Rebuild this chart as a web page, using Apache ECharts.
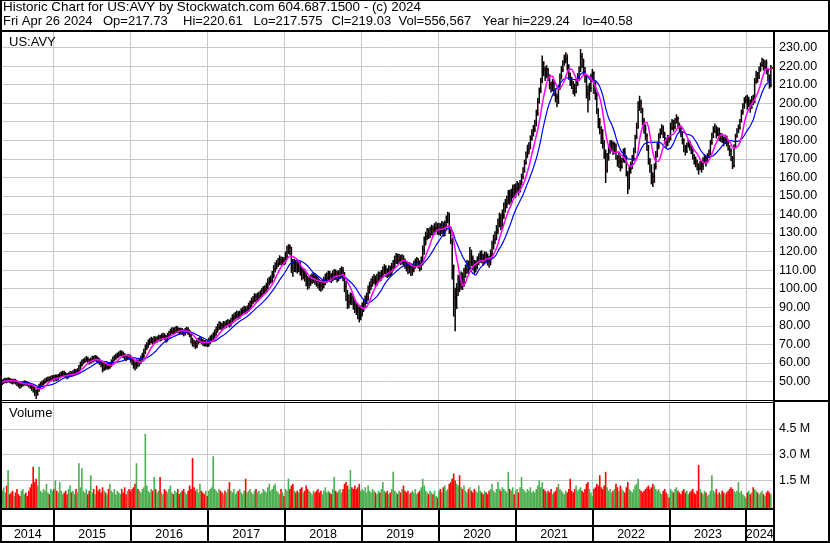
<!DOCTYPE html>
<html><head><meta charset="utf-8">
<script src="https://cdn.jsdelivr.net/npm/echarts@6/dist/echarts.min.js"></script>
<style>html,body{margin:0;padding:0;background:#fff;overflow:hidden}#c{width:830px;height:543px}</style>
</head><body><div id="c"></div>
<script>
// ---- DATA (weekly, first bar = Fri 2 May 2014, one value per week) ----
const firstWeek = '2014-05-02';
const closes = [
49.6,50.1,50.8,50.4,51.0,50.6,50.2,49.8,50.4,49.6,48.9,48.2,47.6,48.3,48.8,49.3,49.0,48.6,48.1,47.4,46.6,45.8,44.2,43.0,45.6,47.2,48.3,49.1,49.8,50.6,50.9,51.4,51.0,51.8,52.0,
51.5,52.3,51.8,52.6,53.4,53.8,54.5,53.9,53.2,52.8,53.6,54.2,53.9,54.6,55.3,55.0,55.8,57.5,59.2,60.4,60.9,61.5,62.2,61.0,60.5,61.3,62.5,61.8,62.9,62.0,61.2,60.4,59.1,57.0,58.5,57.6,58.8,57.9,58.9,60.6,62.0,62.8,63.5,64.0,64.8,65.3,64.9,64.2,63.1,62.5,63.3,63.0,
62.0,60.5,59.0,58.2,60.3,59.6,60.8,62.5,63.9,66.0,68.2,69.5,71.0,71.8,72.5,71.6,72.9,72.3,72.8,73.6,73.0,74.2,74.6,73.8,72.5,74.7,75.6,76.8,77.5,77.0,77.8,78.3,77.6,76.9,77.4,76.8,76.0,77.2,77.8,76.5,75.2,72.0,70.6,70.2,69.2,71.4,71.9,72.6,71.5,70.8,70.3,70.6,70.2,
71.5,72.8,73.5,74.6,76.0,77.8,79.2,80.4,80.0,79.4,80.8,80.3,81.2,81.6,81.0,82.5,84.2,84.9,85.6,86.2,85.4,86.3,87.5,88.1,88.8,88.2,89.0,90.5,91.8,93.2,94.0,95.6,94.8,95.9,96.4,97.2,98.5,99.3,99.8,101.0,103.5,104.2,105.0,107.2,110.5,112.0,113.4,114.2,115.6,114.8,115.1,114.9,
117.5,120.8,122.4,121.0,114.0,111.5,113.2,112.0,111.2,112.5,109.8,107.6,108.5,106.9,104.5,102.8,103.6,104.8,105.5,106.3,105.0,104.2,103.1,102.0,101.5,102.3,103.8,105.5,106.0,107.2,106.5,105.8,107.4,108.0,107.3,106.2,107.5,108.6,109.4,107.0,101.5,96.4,92.8,93.5,95.2,94.0,91.5,90.2,89.0,87.5,85.2,88.6,
89.5,92.0,93.8,95.5,99.2,101.4,103.0,104.5,105.3,103.8,105.6,106.9,106.2,107.8,109.6,110.8,108.9,108.2,110.3,109.1,111.5,113.0,115.2,116.8,115.6,116.4,115.2,116.0,114.3,113.1,112.0,110.6,111.8,109.5,110.9,112.6,113.8,114.5,113.2,112.0,114.6,120.5,125.2,128.0,130.2,129.4,131.0,132.0,130.8,132.9,133.6,131.8,
132.8,131.5,133.9,130.6,134.5,137.2,139.4,132.0,126.5,112.0,95.5,90.0,99.5,104.2,102.0,106.5,103.0,108.5,110.2,112.8,111.0,119.0,116.0,113.5,111.5,112.5,114.8,116.2,117.8,116.5,115.3,117.6,116.8,115.2,114.6,118.5,123.0,126.5,128.0,131.5,135.2,138.0,134.6,139.5,143.8,145.2,147.5,150.2,148.6,151.3,153.0,152.4,
154.0,155.2,152.8,157.5,160.2,163.4,167.8,172.5,175.0,176.5,181.0,184.5,186.0,189.0,194.5,201.0,206.5,212.0,221.5,218.0,215.5,217.8,214.5,210.0,208.5,210.8,206.0,203.5,200.5,208.0,214.5,218.0,221.5,224.0,226.0,219.0,215.0,212.0,210.5,208.0,206.2,210.5,214.0,218.5,225.0,222.5,217.0,214.0,205.0,202.5,208.0,213.5,216.5,
210.0,204.5,196.0,190.0,185.5,181.0,178.5,172.0,164.0,170.5,174.8,176.5,178.0,174.5,176.8,171.0,168.5,170.2,165.5,168.8,173.5,171.0,162.0,154.5,164.5,166.5,170.2,174.0,181.5,187.5,198.5,200.2,196.0,190.5,186.0,182.5,176.0,168.5,165.0,160.5,158.0,166.0,172.5,177.0,182.0,184.5,186.5,183.0,180.5,178.0,181.2,180.9,
186.5,189.2,187.0,190.5,191.8,188.0,186.2,183.5,180.2,176.5,174.0,177.2,178.8,176.0,174.5,171.8,169.5,168.2,166.5,164.8,167.5,166.0,169.2,170.5,168.8,171.6,173.0,178.5,182.0,184.5,186.8,183.2,185.5,181.0,182.4,180.5,179.2,181.8,178.5,176.8,174.2,170.5,166.0,176.5,182.0,184.8,186.5,190.5,195.2,198.4,201.5,202.2,
199.5,201.0,197.5,202.0,200.5,212.0,215.5,214.0,218.4,220.5,222.8,219.6,221.5,217.5,214.0,209.5,219.0
];
const highs = [
51.1,51.6,52.0,51.9,52.3,52.0,51.6,51.4,51.5,51.4,50.6,50.0,49.4,49.6,50.1,50.6,50.4,50.1,49.6,49.2,48.5,47.8,47.2,45.6,47.1,48.7,49.7,50.4,51.0,51.7,52.2,52.6,52.7,53.1,53.4,
53.5,53.8,53.7,54.0,54.8,55.3,55.8,55.7,54.9,54.5,54.9,55.6,55.5,56.0,56.8,56.7,57.1,58.8,60.7,61.8,62.3,62.9,63.7,63.3,62.3,62.8,63.9,63.8,64.3,64.0,63.2,62.5,61.5,60.3,60.1,59.9,60.3,60.0,60.2,61.9,63.4,64.2,64.9,65.5,66.2,66.8,66.7,66.1,65.3,64.4,64.7,64.6,
64.4,63.3,61.9,60.8,61.9,61.8,62.4,64.0,65.5,67.6,69.9,71.1,72.6,73.4,74.1,73.6,74.5,74.2,74.4,75.2,75.1,75.8,76.3,76.0,75.1,76.2,77.2,78.4,79.2,79.1,79.4,80.0,79.6,78.9,79.0,78.8,78.0,78.8,79.5,79.2,77.9,76.6,73.6,72.5,72.0,73.0,73.6,74.3,73.9,72.9,72.3,72.3,72.0,
73.5,74.7,75.4,76.5,78.0,79.6,81.1,82.4,82.2,81.7,82.6,82.5,83.1,83.6,83.2,84.3,86.1,86.8,87.5,88.2,87.8,88.2,89.4,90.1,90.8,90.5,91.0,92.5,93.7,95.2,96.1,97.6,97.3,97.9,98.4,99.2,100.5,101.4,101.8,103.2,105.6,106.4,107.2,109.5,112.7,114.2,115.5,116.6,118.0,117.4,117.2,117.1,
120.0,123.2,124.0,123.8,122.5,116.0,116.1,115.5,115.0,115.3,114.5,111.9,111.3,110.8,109.0,106.9,106.3,107.5,108.3,108.9,108.5,107.3,106.4,105.3,104.5,104.9,106.4,108.1,108.7,109.7,109.5,108.5,109.7,110.6,110.4,109.7,109.9,111.1,112.0,111.7,109.0,104.1,99.3,96.9,98.0,97.8,96.3,94.1,93.0,92.0,90.5,91.0,
92.5,94.5,96.3,97.9,101.7,103.8,105.5,106.8,107.9,107.1,108.0,109.3,109.1,110.1,112.0,113.2,112.7,111.1,112.7,112.3,113.9,115.5,117.8,119.3,118.9,118.8,118.3,118.5,118.0,116.3,115.1,114.0,114.4,113.7,113.3,115.0,116.3,117.1,116.5,115.3,117.3,123.3,128.1,130.7,132.7,132.5,133.4,134.5,134.0,135.3,136.1,135.3,
135.5,135.3,136.5,136.0,136.7,139.5,141.5,141.0,133.5,127.0,113.0,100.5,103.0,107.5,107.0,109.3,108.7,111.1,113.0,115.5,115.1,122.5,121.0,117.9,115.5,115.3,117.4,118.9,120.5,120.7,118.8,120.1,119.9,119.0,117.7,121.1,125.8,129.1,131.0,134.3,137.9,141.0,140.5,142.7,146.5,148.3,150.1,153.1,153.3,153.9,156.1,156.3,
156.8,158.0,157.2,158.6,162.0,165.5,169.5,174.0,177.6,179.0,182.6,186.0,188.2,191.0,196.5,202.8,208.4,213.6,225.7,222.6,219.8,220.6,219.0,215.6,211.5,213.0,212.4,208.0,205.2,209.6,216.0,220.0,223.2,226.2,227.5,226.0,221.0,216.5,214.2,212.0,210.5,212.8,216.2,219.8,229.2,227.0,224.0,219.5,215.0,209.5,210.8,215.8,218.4,
217.0,211.5,206.0,197.2,192.0,187.5,186.0,180.2,175.0,173.2,177.6,180.0,180.2,179.5,179.0,178.2,172.0,173.5,171.8,170.4,175.5,176.0,171.8,163.5,166.2,168.4,172.0,176.0,183.0,189.5,201.0,204.0,202.0,197.5,192.0,188.5,183.8,177.5,170.5,167.0,162.8,167.5,174.2,179.0,183.8,186.4,188.6,188.0,184.6,181.5,182.8,183.0,
189.5,191.5,191.0,192.0,194.0,192.8,189.5,187.2,184.5,181.0,177.5,178.6,180.5,179.8,177.6,175.6,172.5,171.2,169.5,167.6,168.8,168.6,170.8,172.6,171.8,173.0,175.0,180.2,184.0,187.6,189.0,188.0,187.0,186.8,184.0,183.6,182.0,183.0,182.5,179.8,177.4,175.5,171.5,177.8,183.5,186.5,188.5,191.5,196.5,200.0,203.2,204.0,
204.5,203.5,202.0,203.8,204.6,213.5,217.5,216.8,219.8,222.0,224.5,223.8,223.2,223.5,219.0,215.5,220.6
];
const lows = [
48.1,48.6,49.1,49.0,49.4,49.2,48.8,48.4,48.7,48.3,47.5,46.8,46.1,46.6,47.3,47.8,47.7,47.4,46.7,46.0,45.0,44.0,42.2,40.6,42.4,44.5,46.1,47.2,48.0,48.8,49.4,49.8,49.6,50.1,50.5,
49.9,50.4,50.3,50.7,51.6,52.2,52.7,52.6,51.8,51.2,51.7,52.5,52.4,52.8,53.5,53.6,54.0,54.7,56.4,58.1,59.2,59.9,60.5,59.7,59.0,59.5,60.2,60.3,60.7,60.5,59.7,58.9,57.6,54.9,55.6,56.1,56.5,56.4,56.9,57.8,59.5,60.9,61.7,62.4,62.9,63.7,63.3,62.5,61.6,60.9,61.5,61.6,
60.2,58.8,56.9,55.9,56.8,57.6,58.2,59.5,61.2,62.5,64.8,67.0,68.1,69.6,70.4,69.9,70.3,70.5,70.8,71.6,71.5,71.9,72.8,72.2,70.8,71.4,73.5,74.4,75.6,75.3,75.8,76.5,76.0,75.2,75.5,75.1,74.3,74.8,75.9,75.0,73.8,70.4,68.8,68.4,67.4,68.0,70.0,70.7,70.1,69.2,68.8,68.9,68.6,
68.7,70.0,71.1,72.0,73.2,74.6,76.3,77.7,77.9,77.3,78.0,78.4,78.8,79.6,79.0,79.6,81.1,82.7,83.4,84.1,83.4,83.8,84.9,86.0,86.6,86.2,86.7,87.5,89.1,90.3,91.7,92.6,92.7,93.3,94.1,94.8,95.7,97.0,97.6,98.0,99.6,101.8,102.7,103.4,105.6,108.7,110.4,111.7,112.6,112.7,112.7,112.6,
113.1,115.5,118.7,118.0,108.5,106.5,109.0,108.8,108.1,108.8,107.0,104.5,105.1,103.8,101.3,99.4,100.1,101.5,102.5,103.1,102.1,101.1,100.1,98.9,98.3,99.1,100.3,101.9,103.0,104.0,103.7,103.0,103.9,105.1,104.7,103.4,104.1,105.4,106.2,104.0,98.1,93.3,89.0,89.5,91.3,91.1,88.7,86.9,85.8,83.5,81.8,83.0,
85.0,87.5,90.0,91.7,93.5,97.3,99.4,101.2,102.5,101.1,101.7,103.5,103.7,104.4,105.9,107.8,106.5,105.7,106.3,106.5,107.3,109.4,111.1,113.3,113.2,113.4,112.7,113.1,112.0,110.7,109.3,107.8,108.3,106.9,107.1,108.9,110.8,111.7,110.8,109.3,110.1,112.5,118.3,123.3,126.1,126.8,127.3,128.7,128.3,128.9,130.5,129.1,
129.0,128.3,129.5,128.0,128.3,132.1,135.3,129.5,124.0,105.0,85.0,77.0,89.0,96.1,98.3,99.5,99.3,101.0,105.9,108.0,107.9,110.0,112.1,109.9,108.0,108.7,110.5,112.7,114.1,113.7,112.3,113.1,113.9,112.5,111.3,112.5,116.5,121.1,124.0,126.1,129.3,133.1,131.5,133.0,137.5,141.0,143.3,145.5,145.1,146.3,148.7,149.1,
149.0,151.6,150.2,151.8,155.8,159.0,162.5,166.8,170.4,172.5,175.2,179.8,182.0,184.4,187.5,193.2,199.8,205.4,210.8,214.6,212.0,213.5,212.0,207.5,205.8,206.4,203.8,200.5,197.8,199.5,207.2,212.8,216.8,220.2,221.5,217.5,212.6,209.2,207.6,204.8,203.6,205.4,209.2,212.0,216.8,219.0,214.8,211.0,202.6,195.0,201.5,206.0,211.8,
205.0,201.8,194.2,186.4,183.2,178.0,175.5,170.0,157.0,162.5,169.0,172.8,174.2,172.0,172.6,169.5,165.8,165.0,163.2,164.8,168.0,167.8,160.5,151.0,153.5,162.0,164.5,168.8,173.0,180.6,186.2,195.8,194.5,188.0,183.5,180.0,174.2,166.8,162.5,156.2,154.8,157.0,164.2,170.8,175.2,181.0,183.0,181.2,178.6,176.0,176.8,178.8,
180.0,185.5,184.6,186.0,189.0,186.5,184.2,181.8,177.8,173.5,171.8,173.2,176.0,174.5,172.6,169.6,167.0,165.5,163.8,161.5,163.8,162.5,164.0,167.5,165.8,167.6,170.5,172.0,177.6,181.2,184.0,181.0,182.2,179.5,179.2,178.5,176.8,178.0,176.6,174.5,171.5,168.8,164.5,165.5,175.8,181.5,183.8,185.8,189.6,193.8,197.0,199.8,
196.5,197.8,194.8,197.0,199.0,200.2,210.5,211.0,213.0,217.0,219.5,217.6,218.0,215.6,211.5,207.8,208.6
];
// visible volume height per week, millions of shares
const volumes = [
0.9,1.1,0.8,1.2,2.1,0.7,0.8,0.9,0.6,0.8,1.0,0.7,0.6,0.9,1.0,0.7,0.8,0.6,0.9,1.1,1.3,2.3,1.4,1.6,1.2,2.3,0.9,0.8,1.0,0.9,1.3,0.8,0.7,1.0,0.9,
1.0,1.5,0.9,0.8,1.4,0.9,0.7,0.8,0.9,0.7,1.0,1.2,0.8,0.9,0.7,1.0,0.8,2.5,1.1,2.2,0.9,0.8,1.0,0.7,0.9,1.8,0.8,1.0,0.7,1.2,0.9,1.0,0.8,1.1,0.9,0.8,0.7,1.0,1.3,0.9,0.8,1.0,0.7,0.9,0.8,0.7,1.0,0.8,1.1,0.7,0.9,1.0,
0.9,1.0,1.1,1.3,2.5,1.0,0.9,0.8,1.0,1.1,4.2,1.2,0.9,0.8,1.0,0.9,1.7,1.0,0.8,0.9,1.7,0.8,0.7,1.0,0.9,0.8,1.0,1.2,0.8,0.7,0.9,0.8,1.0,0.7,0.8,0.9,1.0,0.8,0.7,0.9,1.2,1.0,2.8,1.1,0.9,1.0,0.8,1.3,0.9,0.8,0.7,0.9,0.6,
0.9,1.0,1.1,2.9,1.0,0.9,0.8,1.0,0.9,0.8,0.7,0.9,0.8,1.0,1.4,0.9,0.8,1.0,0.7,0.8,0.9,1.0,0.8,0.7,0.9,1.6,0.8,0.9,1.0,0.8,0.7,0.9,1.0,0.8,0.9,0.7,0.8,1.0,0.9,0.8,1.1,1.3,0.9,1.0,1.2,1.3,0.9,0.8,0.7,1.0,0.8,0.6,
1.0,0.9,1.6,1.0,1.2,1.3,0.9,0.8,0.9,0.8,1.0,1.1,0.8,0.9,1.2,1.0,0.9,0.8,0.7,0.9,0.8,0.9,1.0,0.8,0.9,0.7,0.9,1.1,0.8,0.9,0.8,0.7,1.0,1.7,0.9,0.8,0.9,1.0,0.8,1.0,1.3,1.4,1.2,1.0,2.1,1.1,1.0,1.2,1.0,1.1,1.3,0.9,
1.0,0.9,1.1,0.8,1.2,0.9,0.8,1.0,0.9,0.8,0.7,0.9,0.8,1.0,1.4,0.9,0.8,0.9,0.7,0.8,1.0,2.0,0.9,0.8,0.7,0.9,0.8,1.0,1.2,0.9,0.8,0.9,0.7,0.8,0.9,0.8,1.0,0.7,0.8,0.9,1.1,1.6,1.2,0.9,0.8,0.7,0.9,0.8,0.7,0.9,0.6,0.5,
0.9,1.0,0.8,1.1,1.2,0.9,1.0,1.3,1.4,1.6,1.9,1.5,1.3,1.2,1.8,1.1,1.0,1.2,0.9,0.8,1.0,1.1,0.9,0.8,1.0,0.9,0.8,1.2,0.9,0.8,0.7,0.9,0.8,0.7,0.9,1.0,1.3,0.9,0.8,1.0,1.4,1.0,0.9,1.1,1.0,0.9,0.8,2.0,1.0,0.9,1.1,0.7,
0.9,1.0,0.8,1.1,1.7,1.0,0.9,0.8,1.0,0.9,1.1,0.8,0.9,0.8,1.0,1.2,1.5,1.1,1.4,1.0,0.9,0.8,0.9,0.8,1.0,0.7,0.8,0.9,1.1,1.3,1.0,0.9,0.8,0.7,0.9,0.8,1.0,1.6,0.9,0.8,1.0,1.2,0.9,1.0,1.1,0.9,0.8,1.0,1.3,1.4,1.0,0.8,0.6,
1.0,1.1,1.3,1.2,1.8,1.1,1.0,1.2,2.0,1.1,0.9,1.0,0.8,0.9,1.0,1.3,1.1,0.9,1.2,1.0,0.9,0.8,1.1,1.4,1.0,0.9,0.8,1.0,1.2,1.3,1.6,1.0,0.9,0.8,0.9,1.0,1.1,1.2,1.0,1.1,1.3,1.2,1.0,0.9,1.0,0.8,0.7,0.9,1.0,0.8,0.7,0.5,
1.0,0.9,0.8,1.0,1.1,0.9,0.8,0.7,0.9,1.0,0.8,0.9,0.7,0.8,0.9,1.0,0.8,0.7,0.9,2.4,1.0,0.8,0.7,0.9,0.8,0.6,0.7,0.9,1.8,0.9,0.8,1.0,0.7,0.8,0.7,0.9,0.8,0.7,0.8,0.9,1.0,1.1,1.0,0.9,0.8,0.9,1.4,0.8,0.9,0.7,0.6,0.5,
0.8,0.9,0.7,0.8,1.1,1.0,0.9,0.8,0.7,0.8,0.9,0.7,0.6,0.8,0.9,0.8,0.7
];
const years = [2014,2015,2016,2017,2018,2019,2020,2021,2022,2023,2024];
const priceTicks = [50,60,70,80,90,100,110,120,130,140,150,160,170,180,190,200,210,220,230];
const volumeTicks = [1.5,3.0,4.5];
const fastMAWeeks = 8, slowMAWeeks = 16;
const headerLine1 = 'Historic Chart for US:AVY by Stockwatch.com 604.687.1500 - (c) 2024';
const headerFields = ['Fri Apr 26 2024','Op=217.73','Hi=220.61','Lo=217.575','Cl=219.03','Vol=556,567','Year hi=229.24','lo=40.58'];
const symbolLabel = 'US:AVY', volumeLabel = 'Volume';

// ---- BUILD ----
const DAY = 86400000;
const t0 = Date.parse(firstWeek + 'T00:00:00Z');
const times = closes.map((_, i) => t0 + i * 7 * DAY);
function sma(a, n) { return a.map((_, i) => { const s = Math.max(0, i - n + 1); let sum = 0; for (let k = s; k <= i; k++) sum += a[k]; return sum / (i - s + 1); }); }
const fastMA = sma(closes, fastMAWeeks), slowMA = sma(closes, slowMAWeeks);
const priceData = times.map((t, i) => [t, highs[i], lows[i], closes[i]]);
const volData = times.map((t, i) => [t, volumes[i], i === 0 ? 1 : Math.sign(closes[i] - closes[i - 1])]);
const yearStartData = years.slice(1).map(y => [Date.UTC(y, 0, 1)]);
const stripData = years.map(y => [Date.UTC(y, 0, 1), Date.UTC(y + 1, 0, 1), y]);

const FONT = '"Liberation Sans", Arial, sans-serif';
const GRID_GRAY = '#c8c8c8';
const xMin = Date.UTC(2014, 4, 1), xMax = Date.UTC(2024, 4, 6);

function yearLines(params, api) {
  const cs = params.coordSys;
  const x = Math.floor(api.coord([api.value(0), 0])[0]);
  return { type: 'rect', shape: { x: x, y: cs.y, width: 1, height: cs.height + 3 }, style: { fill: GRID_GRAY } };
}
function priceBar(params, api) {
  const t = api.value(0);
  const pH = api.coord([t, api.value(1)]), pL = api.coord([t, api.value(2)]), pC = api.coord([t, api.value(3)]);
  return { type: 'group', children: [
    { type: 'rect', shape: { x: pH[0] - 0.75, y: pH[1], width: 1.5, height: Math.max(1, pL[1] - pH[1]) }, style: { fill: '#000' } },
    { type: 'rect', shape: { x: pH[0] + 0.75, y: pC[1] - 1, width: 1.5, height: 2 }, style: { fill: '#ff0000' } }
  ]};
}
function volBar(params, api) {
  const cs = params.coordSys;
  const p = api.coord([api.value(0), api.value(1)]);
  const d = api.value(2);
  const bottom = cs.y + cs.height + 3;
  return { type: 'rect', shape: { x: p[0] - 0.8, y: p[1], width: 1.6, height: bottom - p[1] },
    style: { fill: d > 0 ? '#4caf50' : (d < 0 ? '#ff0000' : '#a0a0a0') } };
}
function stripItem(params, api) {
  const cs = params.coordSys;
  const a = api.coord([api.value(0), 0])[0], b = api.coord([api.value(1), 0])[0];
  const x0 = Math.max(a, cs.x), x1 = Math.min(b, cs.x + cs.width);
  const ch = [{ type: 'text', x: (x0 + x1) / 2, y: cs.y + 24.5,
    style: { text: String(api.value(2)), align: 'center', verticalAlign: 'middle', fill: '#000', font: '12.5px ' + FONT } }];
  if (b < cs.x + cs.width - 2) ch.push({ type: 'rect', shape: { x: Math.round(b) - 1, y: cs.y, width: 2, height: cs.height }, style: { fill: '#000' } });
  return { type: 'group', children: ch };
}

const blk = (x, y, w, h) => ({ type: 'rect', shape: { x, y, width: w, height: h }, style: { fill: '#000' }, z: 100 });
const txt = (s, x, y, size) => ({ type: 'text', x: x, y: y, z: 100, style: { text: s, fill: '#000', font: size + 'px ' + FONT, align: 'left', verticalAlign: 'middle' } });
const fieldX = [3, 103, 183, 253.5, 331.5, 398.5, 482.5, 582.5];

const option = {
  animation: false,
  textStyle: { fontFamily: FONT },
  grid: [
    { left: 2, top: 31, width: 771, height: 369 },
    { left: 2, top: 403, width: 771, height: 103.2 },
    { left: 2, top: 510, width: 771, height: 31 }
  ],
  xAxis: [0, 1, 2].map(g => ({ type: 'value', gridIndex: g, min: xMin, max: xMax, show: false })),
  yAxis: [
    { type: 'value', gridIndex: 0, position: 'right', min: 40, max: 238.9, interval: 10,
      axisLine: { show: false }, axisTick: { show: false },
      axisLabel: { margin: 6, color: '#000', fontSize: 12.5, fontFamily: FONT,
        formatter: v => priceTicks.some(p => Math.abs(p - v) < 1e-6) ? v.toFixed(2) : '' },
      splitLine: { show: true, showMinLine: false, showMaxLine: false, lineStyle: { color: GRID_GRAY, width: 1 } } },
    { type: 'value', gridIndex: 1, position: 'right', min: 0, max: 6, interval: 1.5,
      axisLine: { show: false }, axisTick: { show: false },
      axisLabel: { margin: 6, color: '#000', fontSize: 12.5, fontFamily: FONT,
        formatter: v => volumeTicks.some(p => Math.abs(p - v) < 1e-6) ? v.toFixed(1) + ' M' : '' },
      splitLine: { show: true, showMinLine: false, showMaxLine: false, lineStyle: { color: GRID_GRAY, width: 1 } } },
    { type: 'value', gridIndex: 2, min: 0, max: 1, show: false }
  ],
  series: [
    { type: 'custom', xAxisIndex: 0, yAxisIndex: 0, z: 1, silent: true, renderItem: yearLines, data: yearStartData, encode: { x: 0 } },
    { type: 'custom', xAxisIndex: 1, yAxisIndex: 1, z: 1, silent: true, renderItem: yearLines, data: yearStartData, encode: { x: 0 } },
    { type: 'custom', name: 'Price', xAxisIndex: 0, yAxisIndex: 0, z: 2, clip: true, renderItem: priceBar, data: priceData, encode: { x: 0, y: [1, 2, 3] } },
    { type: 'line', name: 'MA slow', xAxisIndex: 0, yAxisIndex: 0, z: 3, symbol: 'none', data: times.map((t, i) => [t, slowMA[i]]), lineStyle: { color: '#0000ff', width: 1.2 } },
    { type: 'line', name: 'MA fast', xAxisIndex: 0, yAxisIndex: 0, z: 4, symbol: 'none', data: times.map((t, i) => [t, fastMA[i]]), lineStyle: { color: '#ff00ff', width: 1.5 } },
    { type: 'custom', name: 'Volume', xAxisIndex: 1, yAxisIndex: 1, z: 2, clip: false, renderItem: volBar, data: volData, encode: { x: 0, y: 1 } },
    { type: 'custom', xAxisIndex: 2, yAxisIndex: 2, z: 2, clip: false, silent: true, renderItem: stripItem, data: stripData, encode: { x: [0, 1] } }
  ],
  graphic: { elements: [
    blk(0, 0, 830, 1), blk(0, 0, 2, 543), blk(828, 0, 2, 543), blk(0, 541, 830, 2),
    blk(0, 30, 830, 2), blk(773, 30, 2, 512),
    blk(0, 400, 830, 1), blk(0, 402, 773, 1), blk(773, 401, 57, 1),
    blk(0, 508, 775, 2), blk(0, 525, 775, 2),
    txt(headerLine1, 3, 7.3, 13.4),
    ...headerFields.map((s, i) => txt(s, fieldX[i], 21.3, 13)),
    txt(symbolLabel, 9, 42, 13), txt(volumeLabel, 9, 413, 13)
  ] }
};
const chart = echarts.init(document.getElementById('c'));
chart.setOption(option);
const n = closes.length;
if (highs.length !== n || lows.length !== n || volumes.length !== n || n !== 522) {
  setTimeout(() => { throw new Error('length mismatch c=' + n + ' h=' + highs.length + ' l=' + lows.length + ' v=' + volumes.length); }, 0);
}
</script></body></html>
